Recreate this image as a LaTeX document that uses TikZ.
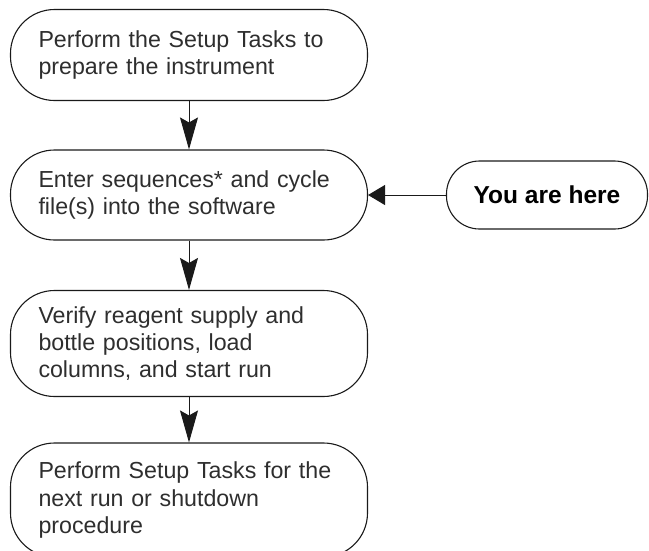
\documentclass[tikz,border=0pt]{standalone}
\usepackage{fontspec}
\setmainfont{Liberation Sans}
\usetikzlibrary{arrows.meta,positioning}
\definecolor{FlowLine}{HTML}{1A1A1A}
\definecolor{FlowText}{HTML}{2E2E2E}

\begin{document}
\begin{tikzpicture}[x=1pt,y=-1pt,
    stepbox/.style={draw=FlowLine,line width=1.1pt,rounded corners=44pt,minimum width=357pt,
      text width=301pt,inner xsep=28pt,align=left,text=FlowText,font=\fontsize{23.2}{27.3}\selectfont},
    herebox/.style={draw=FlowLine,line width=1.1pt,rounded corners=33pt,minimum width=201pt,
      minimum height=68pt,font=\fontsize{24.5}{28}\selectfont\bfseries},
    flow/.style={FlowLine,line width=1pt,-{Stealth[length=32pt,width=18pt,inset=5pt]}},
    pointer/.style={FlowLine,line width=1pt,-{Triangle[length=17pt,width=20pt]}}]
  \useasboundingbox (0,0) rectangle (649,550);
  \node[stepbox,minimum height=91pt] (setup) at (189,55) {Perform the Setup Tasks to\\prepare the instrument};
  \node[stepbox,minimum height=90pt] (enter) at (189,195) {Enter sequences* and cycle\\file(s) into the software};
  \node[stepbox,minimum height=106pt] (verify) at (189,343.5) {Verify reagent supply and\\bottle positions, load\\columns, and start run};
  \node[stepbox,minimum height=114pt] (next) at (189,500) {Perform Setup Tasks for the\\next run or shutdown\\procedure};
  \node[herebox] (here) at (547,195) {You are here};
  \draw[flow] (setup) -- (enter);
  \draw[flow] (enter) -- (verify);
  \draw[flow] (verify) -- (next);
  \draw[pointer] (here) -- (enter);
\end{tikzpicture}
\end{document}
